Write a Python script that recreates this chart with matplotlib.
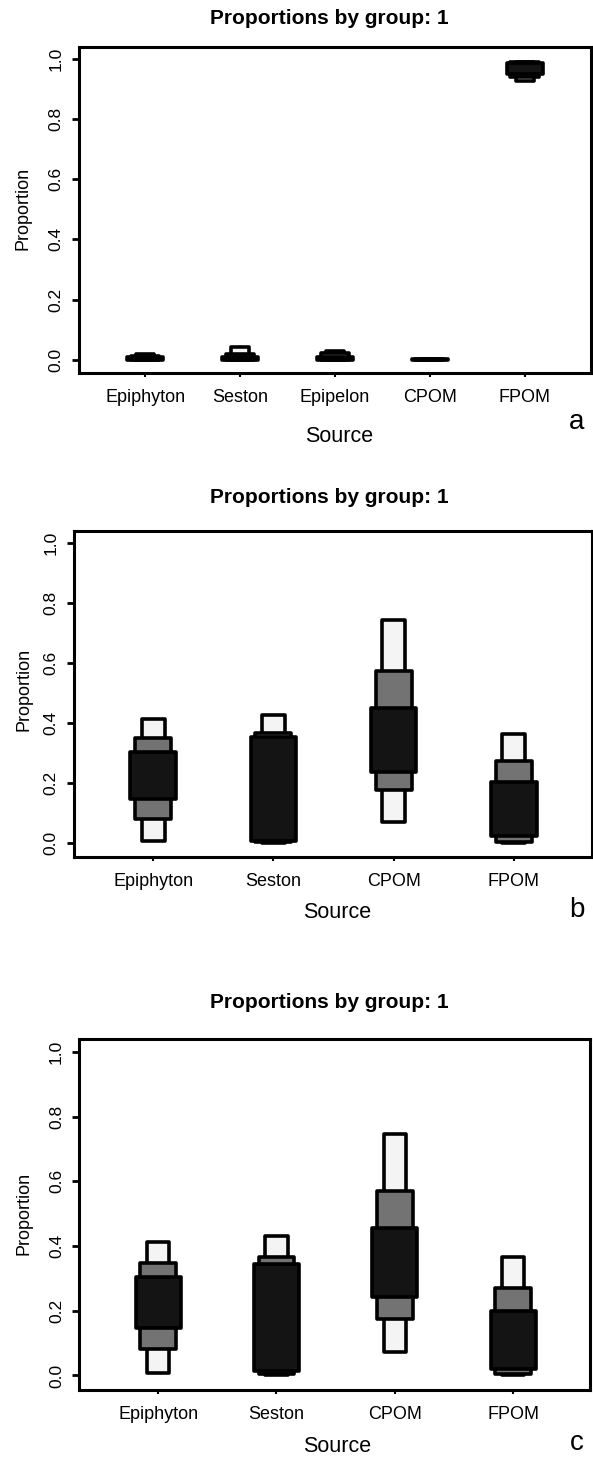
import matplotlib
matplotlib.use("Agg")
import matplotlib.pyplot as plt
from matplotlib.patches import Rectangle

# canvas size in pixels
W, H = 593, 1459

plt.rcParams['font.family'] = ['Liberation Sans', 'DejaVu Sans']

# ---- data: credible intervals (95%, 75%, 50%) per source ----
SOURCES_A = ["Epiphyton", "Seston", "Epipelon", "CPOM", "FPOM"]
A_LO95 = [0.0, 0.0, 0.0, 0.0, 0.925]
A_HI95 = [0.018, 0.042, 0.03, 0.004, 0.99]
A_LO75 = [0.0, 0.0, 0.0, 0.0, 0.94]
A_HI75 = [0.014, 0.018, 0.022, 0.003, 0.99]
A_LO50 = [0.0, 0.0, 0.0, 0.0, 0.95]
A_HI50 = [0.008, 0.01, 0.01, 0.002, 0.986]

SOURCES_BC = ["Epiphyton", "Seston", "CPOM", "FPOM"]
B_LO95 = [0.007, 0.0, 0.07, 0.0]
B_HI95 = [0.413, 0.428, 0.742, 0.364]
B_LO75 = [0.08, 0.003, 0.178, 0.004]
B_HI75 = [0.352, 0.367, 0.572, 0.274]
B_LO50 = [0.147, 0.008, 0.236, 0.024]
B_HI50 = [0.303, 0.354, 0.452, 0.203]

C_LO95 = [0.007, 0.0, 0.074, 0.0]
C_HI95 = [0.411, 0.43, 0.746, 0.365]
C_LO75 = [0.081, 0.005, 0.174, 0.003]
C_HI75 = [0.349, 0.367, 0.57, 0.27]
C_LO50 = [0.146, 0.015, 0.244, 0.02]
C_HI50 = [0.303, 0.346, 0.455, 0.2]

Y_TICKS = [0.0, 0.2, 0.4, 0.6, 0.8, 1.0]

LIGHT, MID, DARK = '#f4f4f4', '#737373', '#141414'
HALF_WIDTHS = (0.095, 0.15, 0.19)


def fx(x):
    return x / W


def fy(y):
    return 1 - y / H


def draw_panel(fig, box, xlim, sources, lows, highs, layout):
    """Draw one 'Proportions by group' panel; box is (left, top, right, bottom) in px."""
    left, top, right, bottom = box
    ax = fig.add_axes([fx(left), fy(bottom), (right - left) / W, (bottom - top) / H])

    for i, name in enumerate(sources):
        x = i + 1
        for lo, hi, hw, color in zip([l[i] for l in lows], [h[i] for h in highs],
                                     HALF_WIDTHS, (LIGHT, MID, DARK)):
            ax.add_patch(Rectangle((x - hw, lo), 2 * hw, hi - lo, facecolor=color,
                                   edgecolor='black', linewidth=2.6, joinstyle='round'))

    ax.set_xlim(*xlim)
    ax.set_ylim(-0.045, 1.04)
    ax.set_yticks(Y_TICKS)
    ax.set_yticklabels([f"{t:.1f}" for t in Y_TICKS], rotation=90, va='center', fontsize=12.5)
    ax.set_xticks(range(1, len(sources) + 1))
    ax.set_xticklabels(sources, fontsize=13)
    ax.tick_params(axis='y', length=5, width=2, pad=6)
    ax.tick_params(axis='x', length=3, width=1.5, pad=8.5)
    for sp in ax.spines.values():
        sp.set_linewidth(2.2)

    fig.text(fx(layout['title'][0]), fy(layout['title'][1]), "Proportions by group: 1",
             ha='center', va='center', fontsize=15, fontweight='bold')
    fig.text(fx(layout['xlabel'][0]), fy(layout['xlabel'][1]), "Source",
             ha='center', va='center', fontsize=15.5)
    fig.text(fx(layout['ylabel'][0]), fy(layout['ylabel'][1]), "Proportion",
             ha='center', va='center', rotation=90, fontsize=13)
    fig.text(fx(layout['letter'][0]), fy(layout['letter'][1]), layout['tag'],
             ha='center', va='center', fontsize=20)
    return ax


def main():
    fig = plt.figure(figsize=(W / 100, H / 100), dpi=100)

    draw_panel(fig, (78.7, 46.7, 591, 373.3), (0.3, 5.7), SOURCES_A,
               [A_LO95, A_LO75, A_LO50], [A_HI95, A_HI75, A_HI50],
               {'title': (329, 19), 'xlabel': (339, 437), 'ylabel': (23, 208),
                'letter': (577, 422), 'tag': 'a'})

    draw_panel(fig, (73.8, 531, 592, 856.7), (0.34, 4.65), SOURCES_BC,
               [B_LO95, B_LO75, B_LO50], [B_HI95, B_HI75, B_HI50],
               {'title': (329, 497), 'xlabel': (337, 913), 'ylabel': (23.5, 689),
                'letter': (577, 910), 'tag': 'b'})

    draw_panel(fig, (79.4, 1039, 590, 1390), (0.335, 4.65), SOURCES_BC,
               [C_LO95, C_LO75, C_LO50], [C_HI95, C_HI75, C_HI50],
               {'title': (329.5, 1003), 'xlabel': (337, 1446), 'ylabel': (23.5, 1213),
                'letter': (577, 1443), 'tag': 'c'})

    fig.savefig("out.png", dpi=100)
    plt.close(fig)


if __name__ == "__main__":
    main()
